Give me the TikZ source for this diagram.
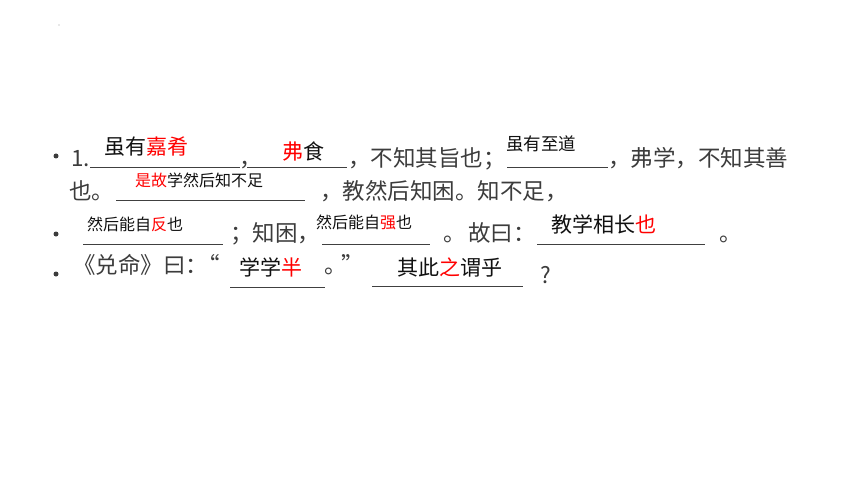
\documentclass[tikz,border=0pt]{standalone}
\usepackage{fontspec}
\usepackage{xcolor}
\usepackage{tikz}
\usetikzlibrary{positioning}
\setmainfont{Noto Sans CJK SC}
\definecolor{bg}{HTML}{FFFFFF}
\definecolor{text}{HTML}{3C3C3C}
\definecolor{ans}{HTML}{111111}
\definecolor{key}{HTML}{FF0000}
\definecolor{rule}{HTML}{404040}
\newcommand{\hl}[1]{\textcolor{key}{#1}}
\tikzset{
  line/.style={anchor=base west, inner sep=0pt, text=text, font=\fontsize{22.5}{24}\selectfont},
  answer/.style={anchor=base west, inner sep=0pt, text=ans, font=\fontsize{21}{23}\selectfont},
  smallanswer/.style={anchor=base west, inner sep=0pt, text=ans, font=\fontsize{16}{18}\selectfont},
  dotmark/.style={circle, fill=text, inner sep=0pt, minimum size=5pt},
  uline/.style={draw=rule, line width=1pt}
}
\begin{document}
\begin{tikzpicture}[x=1pt, y=-1pt]
  \useasboundingbox[fill=bg] (0,0) rectangle (860,484);
  \node[circle, fill=text!50, inner sep=0pt, minimum size=1.2pt] (speck) at (59,25) {};

  % bullets
  \node[dotmark] (b1) at (56,156) {};
  \node[dotmark] (b3) at (56,234) {};
  \node[dotmark] (b4) at (56,274) {};

  % blanks
  \coordinate (u1a) at (90,168);  \coordinate (u1b) at (240,168);
  \coordinate (u2a) at (247,168); \coordinate (u2b) at (347,168);
  \coordinate (u3a) at (507,168); \coordinate (u3b) at (608,168);
  \coordinate (u4a) at (116,201); \coordinate (u4b) at (305,201);
  \coordinate (u5a) at (83,244);  \coordinate (u5b) at (223,244);
  \coordinate (u6a) at (322,244); \coordinate (u6b) at (430,244);
  \coordinate (u7a) at (537,244); \coordinate (u7b) at (705,244);
  \coordinate (u8a) at (230,287); \coordinate (u8b) at (325,287);
  \coordinate (u9a) at (372,286); \coordinate (u9b) at (523,286);
  \draw[uline] (u1a) -- (u1b);
  \draw[uline] (u2a) -- (u2b);
  \draw[uline] (u3a) -- (u3b);
  \draw[uline] (u4a) -- (u4b);
  \draw[uline] (u5a) -- (u5b);
  \draw[uline] (u6a) -- (u6b);
  \draw[uline] (u7a) -- (u7b);
  \draw[uline] (u8a) -- (u8b);
  \draw[uline] (u9a) -- (u9b);

  % line 1
  \node[line] (n1) at (71,167) {1.};
  \node[line] (c1) at (239,167) {，};
  \node[line] (t1) at (348,167) {，不知其旨也；};
  \node[line] (t2) at (608,167) {，弗学，不知其善};
  \node[answer] (a1) at (104,155) {虽有\hl{嘉肴}};
  \node[answer] (a2) at (282,160) {\hl{弗}食};
  \node[answer, font=\fontsize{17.5}{19}\selectfont] (a3) at (506,151) {虽有至道};

  % line 2
  \node[line] (t3) at (69,200) {也。};
  \node[line] (t4) at (320,200) {，教然后知困。知不足，};
  \node[smallanswer] (a4) at (135,186) {\hl{是故}学然后知不足};

  % line 3
  \node[line] (t5) at (230,241) {；知困，};
  \node[line] (t6) at (443,241) {。};
  \node[line] (t7) at (468,241) {故曰：};
  \node[line] (t8) at (719,241) {。};
  \node[smallanswer] (a5) at (87,230) {然后能自\hl{反}也};
  \node[smallanswer] (a6) at (316,228) {然后能自\hl{强}也};
  \node[answer] (a7) at (551,233) {教学相长\hl{也}};

  % line 4
  \node[line] (t9) at (73,273) {《兑命》曰：};
  \node[line] (q1) at (197,273) {“};
  \node[line] (t10) at (324,273) {。};
  \node[line] (q2) at (341,273) {”};
  \node[line] (t11) at (540,283) {?};
  \node[answer] (a8) at (239,275) {学学\hl{半}};
  \node[answer] (a9) at (397,275) {其此\hl{之}谓乎};
\end{tikzpicture}
\end{document}
